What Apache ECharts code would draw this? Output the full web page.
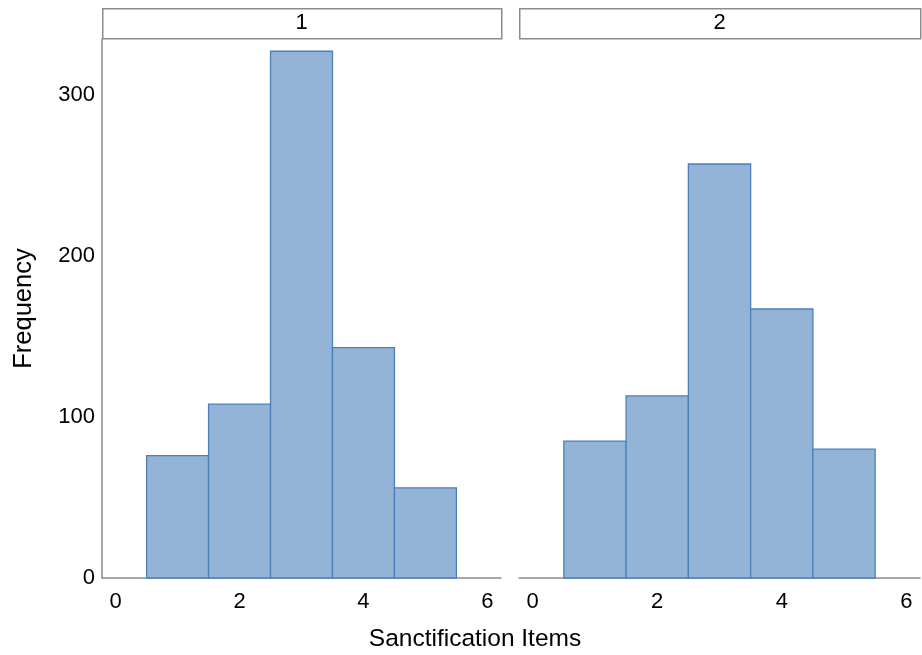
<!DOCTYPE html>
<html>
<head>
<meta charset="utf-8">
<script src="https://cdn.jsdelivr.net/npm/echarts@6/dist/echarts.min.js"></script>
<style>html,body{margin:0;padding:0;background:#fff;}#c{width:922px;height:655px;}</style>
</head>
<body>
<div id="c"></div>
<script>
const panels = ['1', '2'];
const binCenters = [1, 2, 3, 4, 5];
const binWidth = 1;
const freq1 = [76, 108, 327, 143, 56];
const freq2 = [85, 113, 257, 167, 80];
const xTicks = [0, 2, 4, 6];
const yTicks = [0, 100, 200, 300];
const xTitle = 'Sanctification Items';
const yTitle = 'Frequency';

const FONT = 'Liberation Sans, Arial, sans-serif';
const fillC = '#93b3d7';
const strokeC = '#4d7fbd';
const axisC = '#8c8c8c';

function binData(freq) {
  return binCenters.map((c, i) => [c - binWidth / 2, c + binWidth / 2, freq[i]]);
}

function renderItem(params, api) {
  const p0 = api.coord([api.value(0), api.value(2)]);
  const p1 = api.coord([api.value(1), 0]);
  return {
    type: 'rect',
    shape: { x: p0[0], y: p0[1], width: p1[0] - p0[0], height: p1[1] - p0[1] },
    style: { fill: fillC, stroke: strokeC, lineWidth: 1.3 }
  };
}

const grids = [
  { left: 102, top: 39, width: 399, height: 539 },
  { left: 519, top: 39, width: 401, height: 539 }
];

const xAxes = grids.map((g, i) => ({
  type: 'value', gridIndex: i, min: -0.22, max: 6.22,
  interval: 2,
  axisLine: { show: true, onZero: false, lineStyle: { color: axisC, width: 1.5 } },
  axisTick: { show: false },
  splitLine: { show: false },
  axisLabel: {
    color: '#000', fontSize: 22, fontFamily: FONT, margin: 13,
    customValues: xTicks,
    formatter: v => String(v)
  }
}));

const yAxes = grids.map((g, i) => ({
  type: 'value', gridIndex: i, min: 0, max: 334.6,
  axisLine: { show: i === 0, onZero: false, lineStyle: { color: axisC, width: 1.5 } },
  axisTick: { show: false },
  splitLine: { show: false },
  axisLabel: {
    show: i === 0, color: '#000', fontSize: 22, fontFamily: FONT, margin: 7,
    customValues: yTicks,
    formatter: v => String(v)
  },
  name: i === 0 ? yTitle : '',
  nameLocation: 'middle',
  nameGap: 65,
  nameTextStyle: { color: '#000', fontSize: 25.5, fontFamily: FONT }
}));

const series = [freq1, freq2].map((f, i) => ({
  type: 'custom', xAxisIndex: i, yAxisIndex: i,
  renderItem: renderItem,
  encode: { x: [0, 1], y: 2 },
  data: binData(f),
  silent: true
}));

const graphic = [];
grids.forEach((g, i) => {
  graphic.push({
    type: 'rect', left: g.left, top: 8,
    shape: { width: g.width, height: 30 },
    style: { fill: '#fff', stroke: axisC, lineWidth: 1.5 }
  });
  graphic.push({
    type: 'text', x: g.left + g.width / 2, y: 23,
    style: { text: panels[i], fill: '#000', font: '22px ' + FONT, align: 'center', verticalAlign: 'middle' }
  });
});
graphic.push({
  type: 'text', x: 475, y: 639,
  style: { text: xTitle, fill: '#000', font: '24.5px ' + FONT, align: 'center', verticalAlign: 'middle' }
});

const chart = echarts.init(document.getElementById('c'), null, { renderer: 'canvas' });
chart.setOption({
  animation: false,
  backgroundColor: '#fff',
  grid: grids,
  xAxis: xAxes,
  yAxis: yAxes,
  series: series,
  graphic: graphic
});
</script>
</body>
</html>
